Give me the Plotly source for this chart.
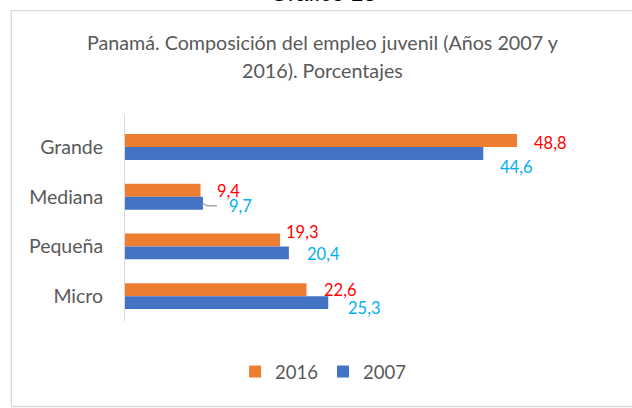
import plotly.graph_objects as go

# ---- data ----
categories = ["Grande", "Mediana", "Pequeña", "Micro"]
values_2016 = [48.8, 9.4, 19.3, 22.6]
values_2007 = [44.6, 9.7, 20.4, 25.3]
labels_2016 = ["48,8", "9,4", "19,3", "22,6"]
labels_2007 = ["44,6", "9,7", "20,4", "25,3"]
series_names = ["2016", "2007"]
title_lines = ["Panamá. Composición del empleo juvenil (Años 2007 y", "2016). Porcentajes"]
top_caption = "Gráfico 13"

# ---- style ----
ORANGE = "#ED7D31"
BLUE = "#4472C4"
RED = "#FF0000"
CYAN = "#00B0F0"
GREY_TXT = "#595959"
FONT = "Lato"

# label pixel offsets (xshift, yshift) relative to bar end / group centre
off_2016 = [(15, 4.5), (14, 6), (4, 14), (15, 6)]
off_2007 = [(15, -20), (24, -9.5), (16, -7.5), (18, -12)]

fig = go.Figure()
fig.add_trace(go.Bar(y=categories, x=values_2016, name=series_names[0], orientation="h",
                     marker=dict(color=ORANGE, line=dict(width=0))))
fig.add_trace(go.Bar(y=categories, x=values_2007, name=series_names[1], orientation="h",
                     marker=dict(color=BLUE, line=dict(width=0))))

annotations = []
for cat, v, lab, (dx, dy) in zip(categories, values_2016, labels_2016, off_2016):
    annotations.append(dict(x=v, y=cat, xref="x", yref="y", text=lab, showarrow=False,
                            xanchor="left", yanchor="middle", xshift=dx, yshift=dy,
                            font=dict(family=FONT, size=16.5, color=RED)))
for cat, v, lab, (dx, dy) in zip(categories, values_2007, labels_2007, off_2007):
    annotations.append(dict(x=v, y=cat, xref="x", yref="y", text=lab, showarrow=False,
                            xanchor="left", yanchor="middle", xshift=dx, yshift=dy,
                            font=dict(family=FONT, size=16.5, color=CYAN)))

# title lines
annotations.append(dict(x=0.410, y=1.353, xref="paper", yref="paper", text=title_lines[0],
                        showarrow=False, xanchor="center", yanchor="middle",
                        font=dict(family=FONT, size=19.7, color=GREY_TXT)))
annotations.append(dict(x=0.410, y=1.215, xref="paper", yref="paper", text=title_lines[1],
                        showarrow=False, xanchor="center", yanchor="middle",
                        font=dict(family=FONT, size=19.7, color=GREY_TXT)))
# caption cut at the top edge
annotations.append(dict(x=0.41, y=1.52, xref="paper", yref="paper", text=top_caption,
                        showarrow=False, xanchor="center", yanchor="bottom",
                        font=dict(family="Liberation Sans", size=23, color="#000000")))

shapes = [
    # outer frame
    dict(type="rect", xref="paper", yref="paper", x0=-0.2357, x1=1.07, y0=-0.415, y1=1.507,
         line=dict(color="#D9D9D9", width=1.3), fillcolor="rgba(0,0,0,0)", layer="below"),
    # leader line for the 2007 "Mediana" label
    dict(type="path", xref="x", yref="y", xsizemode="pixel", ysizemode="pixel",
         xanchor=values_2007[1], yanchor=categories[1],
         path="M 0,-6.5 Q 3,-9 5,-9 L 14,-9",
         line=dict(color="#A6A6A6", width=1.5)),
]

fig.update_layout(
    width=632, height=408,
    margin=dict(l=125, r=25, t=115, b=87),
    paper_bgcolor="white", plot_bgcolor="white",
    barmode="group", bargap=0.48, bargroupgap=0,
    showlegend=True,
    legend=dict(orientation="h", x=0.411, xanchor="center", y=-0.2476, yanchor="middle",
                font=dict(family=FONT, size=18.5, color=GREY_TXT), traceorder="normal"),
    xaxis=dict(range=[0, 60], visible=False, fixedrange=True),
    yaxis=dict(autorange="reversed", showline=True, linecolor="#D9D9D9", linewidth=1,
               ticks="", ticklabelstandoff=17, showgrid=False, zeroline=False,
               fixedrange=True,
               tickfont=dict(family=FONT, size=19.5, color=GREY_TXT)),
    annotations=annotations,
    shapes=shapes,
    font=dict(family=FONT, color=GREY_TXT),
)

fig.write_html("out.html", config={"displayModeBar": False},
               post_script="document.body.style.margin='0';document.body.style.overflow='hidden';")
